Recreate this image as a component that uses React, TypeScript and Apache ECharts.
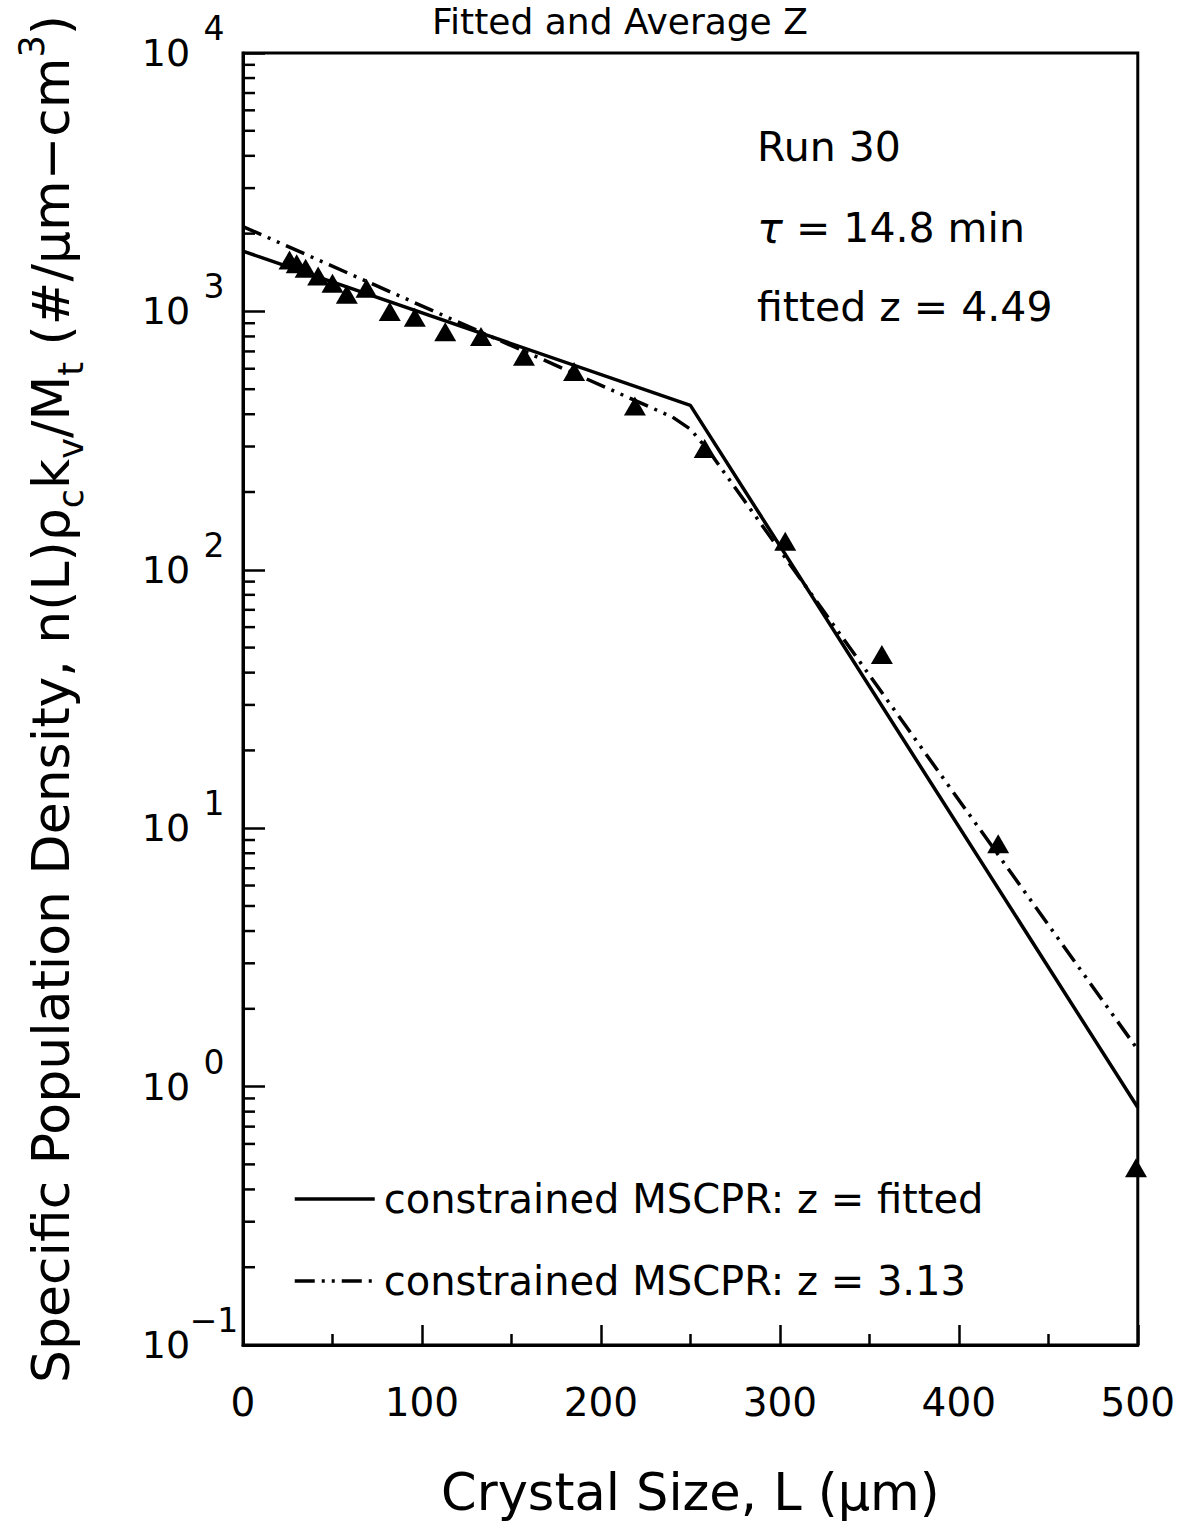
import React, { useEffect, useRef } from "react";
import * as echarts from "echarts";

// Measured data points (triangles)
const sizes = [26, 30, 35, 42, 50, 58, 69, 82, 96, 113, 133, 157, 185, 219, 258, 303, 357, 422, 499];
const density = [1580, 1530, 1470, 1370, 1285, 1165, 1230, 1000, 950, 835, 800, 670, 585, 430, 295, 129, 47, 8.7, 0.485];

// constrained MSCPR: z = fitted (solid)
const fitL = [0, 250, 500];
const fitN = [1710, 433, 0.83];

// constrained MSCPR: z = 3.13 (dash-dot-dot)
const avgL = [0, 240, 250, 260, 500];
const avgN = [2130, 390, 350, 290, 1.39];

const decades = [0.1, 1, 10, 100, 1000];
const minorMultipliers = [2, 3, 4, 5, 6, 7, 8, 9];
const expLabels = ["−1", "0", "1", "2", "3", "4"];

const FONT = "DejaVu Sans";

export default function App() {
  const ref = useRef<HTMLDivElement>(null);
  useEffect(() => {
    if (!ref.current) return;
    const chart = echarts.init(ref.current, undefined, { renderer: "svg" });

    const minorData: number[][] = [];
    decades.forEach((d) => minorMultipliers.forEach((m) => minorData.push([0, d * m])));

    const dashPattern = [20, 7, 3, 7, 3, 7];

    chart.setOption({
      animation: false,
      backgroundColor: "#fff",
      textStyle: { fontFamily: FONT, color: "#000" },
      grid: {
        left: 243,
        right: 38,
        top: 53,
        bottom: 179,
        show: true,
        borderColor: "#000",
        borderWidth: 3,
        backgroundColor: "transparent",
      },
      legend: {
        data: ["constrained MSCPR: z = fitted", "constrained MSCPR: z = 3.13"],
        orient: "vertical",
        left: 293,
        top: 1176,
        padding: 0,
        itemWidth: 80,
        itemHeight: 14,
        itemGap: 36,
        itemStyle: { opacity: 0 },
        lineStyle: { width: 3.5 },
        textStyle: { fontFamily: FONT, fontSize: 40, lineHeight: 46, color: "#000", padding: [0, 0, 0, 4] },
        selectedMode: false,
      },
      xAxis: {
        type: "value",
        min: 0,
        max: 500,
        interval: 100,
        axisLine: { show: true, lineStyle: { color: "#000", width: 3 } },
        axisTick: { show: true, inside: true, length: 20, lineStyle: { color: "#000", width: 2.5 } },
        minorTick: { show: true, splitNumber: 2, length: 11, lineStyle: { color: "#000", width: 2.5 } },
        splitLine: { show: false },
        axisLabel: { fontFamily: FONT, fontSize: 39, color: "#000", margin: 38 },
        name: "Crystal Size, L (μm)",
        nameLocation: "middle",
        nameGap: 122,
        nameTextStyle: { fontFamily: FONT, fontSize: 51, color: "#000" },
      },
      yAxis: {
        type: "log",
        logBase: 10,
        min: 0.1,
        max: 10000,
        axisLine: { show: true, lineStyle: { color: "#000", width: 3 } },
        axisTick: { show: true, inside: true, length: 22, lineStyle: { color: "#000", width: 2.5 } },
        splitLine: { show: false },
        axisLabel: {
          margin: 4,
          formatter: (v: number) => {
            const k = Math.round(Math.log10(v));
            return "{a|10}{s|" + expLabels[k + 1] + "}";
          },
          rich: {
            a: { fontFamily: FONT, fontSize: 38, lineHeight: 82, color: "#000", width: 46 },
            s: { fontFamily: FONT, fontSize: 33, lineHeight: 36, verticalAlign: "top", color: "#000", width: 50, align: "left" },
          },
        },
        name:
          "Specific Population Density, n(L)ρ{sub|c}k{sub|v}/M{sub|t} (#/μm−cm{sup|3})",
        nameLocation: "middle",
        nameRotate: 90,
        nameGap: 155,
        nameTextStyle: {
          fontFamily: FONT,
          fontSize: 52,
          lineHeight: 74,
          color: "#000",
          rich: {
            sub: { fontFamily: FONT, fontSize: 35, lineHeight: 35, verticalAlign: "bottom", color: "#000" },
            sup: { fontFamily: FONT, fontSize: 35, lineHeight: 35, verticalAlign: "top", color: "#000" },
          },
        },
      },
      graphic: [
        {
          type: "text",
          left: 432,
          top: 3,
          style: { text: "Fitted and Average Z", fontFamily: FONT, fontSize: 36, fill: "#000" },
        },
        {
          type: "text",
          left: 757,
          top: 126,
          style: { text: "Run 30", fontFamily: FONT, fontSize: 41, fill: "#000" },
        },
        {
          type: "text",
          left: 757,
          top: 206,
          style: {
            text: "{i|τ} = 14.8 min",
            fontFamily: FONT,
            fontSize: 41,
            fill: "#000",
            rich: { i: { fontFamily: FONT, fontStyle: "italic", fontSize: 43, fill: "#000" } },
          },
        },
        {
          type: "text",
          left: 757,
          top: 286,
          style: { text: "fitted z = 4.49", fontFamily: FONT, fontSize: 41, fill: "#000" },
        },
      ],
      series: [
        {
          name: "constrained MSCPR: z = fitted",
          type: "line",
          data: fitL.map((l, i) => [l, fitN[i]]),
          symbol: "none",
          lineStyle: { color: "#000", width: 3.5, type: "solid" },
          itemStyle: { color: "#000" },
          z: 3,
        },
        {
          name: "constrained MSCPR: z = 3.13",
          type: "line",
          data: avgL.map((l, i) => [l, avgN[i]]),
          symbol: "none",
          lineStyle: { color: "#000", width: 3.5, type: dashPattern, cap: "butt" },
          itemStyle: { color: "#000" },
          z: 3,
        },
        {
          name: "data",
          type: "scatter",
          data: sizes.map((l, i) => [l, density[i]]),
          symbol: "triangle",
          symbolSize: [22, 19],
          itemStyle: { color: "#000", opacity: 1 },
          z: 4,
        },
        {
          name: "minorTicks",
          type: "custom",
          data: minorData,
          encode: { x: 0, y: 1 },
          silent: true,
          renderItem: (params: any, api: any) => {
            const p = api.coord([0, api.value(1)]);
            return {
              type: "line",
              shape: { x1: p[0], y1: p[1], x2: p[0] + 12, y2: p[1] },
              style: { stroke: "#000", lineWidth: 2.5 },
            };
          },
          z: 5,
        },
      ],
    });
    return () => chart.dispose();
  }, []);
  return (
    <div
      ref={ref}
      style={{ position: "absolute", left: 0, top: 0, width: 1178, height: 1524, background: "#fff" }}
    />
  );
}
